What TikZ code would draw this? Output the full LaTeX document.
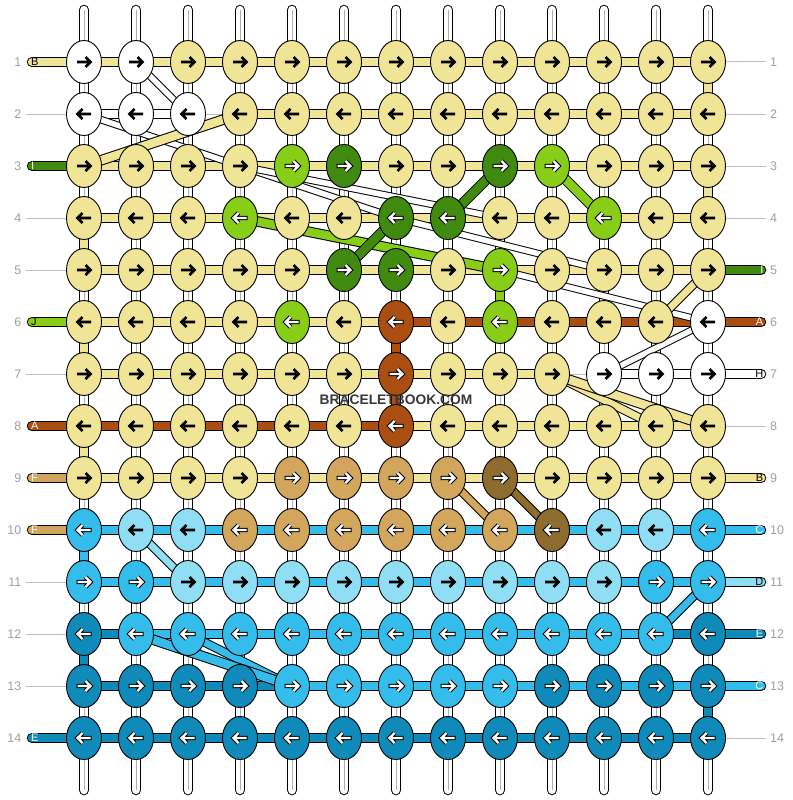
\documentclass[tikz,border=0pt]{standalone}
\usepackage{fontspec}
\setmainfont{Liberation Sans}
\usetikzlibrary{shapes.geometric}
\definecolor{cY}{RGB}{240,228,150}
\definecolor{cW}{RGB}{255,255,255}
\definecolor{cLG}{RGB}{136,206,24}
\definecolor{cDG}{RGB}{64,138,16}
\definecolor{cBR}{RGB}{170,78,18}
\definecolor{cT}{RGB}{210,166,92}
\definecolor{cD}{RGB}{142,108,46}
\definecolor{cLB}{RGB}{144,222,244}
\definecolor{cMB}{RGB}{52,188,234}
\definecolor{cDB}{RGB}{16,138,184}
\definecolor{numgray}{RGB}{160,160,160}
\definecolor{linegray}{RGB}{190,190,190}
\definecolor{strgray}{RGB}{175,175,175}
\definecolor{wmark}{RGB}{55,55,55}
\def\atY{b}\def\atW{b}\def\atLB{b}
\def\atLG{w}\def\atDG{w}\def\atBR{w}\def\atT{w}\def\atD{w}\def\atMB{w}\def\atDB{w}
\def\nonecode{N}
\newcommand\bandline[5]{%
  \draw[line width=#3, black] (#4) -- (#5);
  \draw[line width=#2, #1] (#4) -- (#5);}
\newcommand\karrow[3]{%
  \if#3w
    \draw[line width=4.4pt, black, line join=miter] (#1) ++({-7.5*(#2)},0) -- ++({14*(#2)},0) ++({-5*(#2)},-5) -- ++({5*(#2)},5) -- ++({-5*(#2)},5);
    \draw[line width=2.4pt, white, line join=miter] (#1) ++({-6.5*(#2)},0) -- ++({13*(#2)},0) ++({-5*(#2)},-5) -- ++({5*(#2)},5) -- ++({-5*(#2)},5);
  \else
    \draw[line width=2.6pt, black, line join=miter] (#1) ++({-7*(#2)},0) -- ++({13.5*(#2)},0) ++({-5*(#2)},-5) -- ++({5*(#2)},5) -- ++({-5*(#2)},5);
  \fi}
\begin{document}
\begin{tikzpicture}[x=1pt,y=-1pt,
  knot/.style={ellipse, draw=black, line width=0.9pt, minimum width=35pt, minimum height=43pt, inner sep=0pt},
  lab/.style={font=\fontsize{11}{11}\selectfont, inner sep=0pt},
  num/.style={font=\fontsize{12.5}{12.5}\selectfont, text=numgray, inner sep=0pt},
  gline/.style={draw=linegray, line width=1pt}]
\useasboundingbox (0,0) rectangle (792,800);
\fill[white] (0,0) rectangle (792,800);
% knot centres
\foreach \r in {1,...,14}{\foreach \c in {1,...,13}{
  \coordinate (k-\r-\c) at ({84+52*(\c-1)},{62+52*(\r-1)});}}
% vertical strings
\foreach \c in {1,...,13}{
  \coordinate (top-\c) at ({84+52*(\c-1)},10);
  \coordinate (bot-\c) at ({84+52*(\c-1)},790);
  \draw[line width=10.5, line cap=round] (top-\c) -- (bot-\c);
  \draw[line width=8.5, line cap=round, white] (top-\c) -- (bot-\c);
  \draw[line width=0.7, strgray] (top-\c) -- (bot-\c);
}
% horizontal segments
\foreach \r/\segs in {
 1/{Y,Y,Y,Y,Y,Y,Y,Y,Y,Y,Y,Y},
 2/{W,W,N,Y,Y,Y,Y,Y,Y,Y,Y,Y},
 3/{Y,Y,Y,Y,Y,Y,Y,Y,Y,Y,Y,Y},
 4/{Y,Y,Y,Y,Y,Y,Y,Y,Y,Y,Y,Y},
 5/{Y,Y,Y,Y,Y,Y,Y,Y,Y,Y,Y,Y},
 6/{Y,Y,Y,Y,Y,Y,BR,BR,BR,BR,BR,BR},
 7/{Y,Y,Y,Y,Y,Y,Y,Y,Y,N,W,W},
 8/{BR,BR,BR,BR,BR,BR,Y,Y,Y,Y,Y,Y},
 9/{Y,Y,Y,Y,Y,Y,Y,Y,Y,Y,Y,Y},
 10/{MB,MB,MB,MB,MB,MB,MB,MB,MB,MB,MB,MB},
 11/{MB,MB,MB,MB,MB,MB,MB,MB,MB,MB,MB,MB},
 12/{DB,MB,MB,MB,MB,MB,MB,MB,MB,MB,MB,DB},
 13/{DB,DB,DB,DB,MB,MB,MB,MB,MB,MB,MB,MB},
 14/{DB,DB,DB,DB,DB,DB,DB,DB,DB,DB,DB,DB}}{
  \foreach \s [count=\c] in \segs {
    \pgfmathtruncatemacro\cn{\c+1}
    \edef\tmp{\s}
    \ifx\tmp\nonecode
      \draw[gline, line width=0.8] (k-\r-\c) -- (k-\r-\cn);
    \else
      \bandline{c\s}{8.5}{10.5}{k-\r-\c}{k-\r-\cn}
    \fi
  }}
% vertical coloured segments
\foreach \c/\r/\col in {13/1/Y,13/3/Y,1/4/Y,1/6/Y,1/8/Y,1/10/MB,1/12/DB,13/13/DB,9/5/LG,7/6/BR,7/7/BR}{
  \pgfmathtruncatemacro\rn{\r+1}
  \bandline{c\col}{8.5}{10.5}{k-\r-\c}{k-\rn-\c}}
% white hidden strings
\foreach \a/\b in {1-2/2-3, 2-1/4-7, 3-4/4-9, 4-7/5-11, 5-9/6-13, 6-13/7-11}{
  \bandline{white}{5.5}{7.5}{k-\a}{k-\b}}
% coloured hidden strings
\foreach \col/\a/\b/\w in {Y/2-4/3-1/8.5, Y/5-13/6-12/7, Y/7-10/8-12/7, Y/7-10/8-13/8.5,
  LG/3-10/4-11/8.5, LG/4-4/5-9/8.5, DG/3-9/4-8/8.5, DG/4-7/5-6/8.5,
  T/9-8/10-9/7, D/9-9/10-10/7, LB/10-2/11-3/7, MB/11-13/12-12/7, MB/12-3/13-5/7, MB/12-2/13-5/8.5}{
  \pgfmathsetmacro\wo{\w+2}
  \bandline{c\col}{\w}{\wo}{k-\a}{k-\b}}
% left ends
\foreach \r/\col/\txt/\tc in {1/Y/B/black, 3/DG/I/white, 6/LG/J/black, 8/BR/A/white, 9/T/F/white, 10/T/F/white, 14/DB/E/white}{
  \coordinate (le-\r) at (32,{62+52*(\r-1)});
  \draw[line width=10.5, line cap=round] (le-\r) -- (k-\r-1);
  \draw[line width=8.5, line cap=round, c\col] (le-\r) -- (k-\r-1);
  \node[lab, text=\tc, anchor=west] (lt-\r) at (31,{62+52*(\r-1)}) {\txt};
}
\foreach \r in {2,4,5,7,11,12,13}{
  \coordinate (lg-\r) at (26,{62+52*(\r-1)});
  \draw[gline] (lg-\r) -- (k-\r-1);}
% right ends
\foreach \r/\col/\txt/\tc in {5/DG/I/white, 6/BR/A/white, 7/W/H/black, 9/Y/B/black, 10/MB/C/white, 11/LB/D/black, 12/DB/E/white, 13/MB/C/white}{
  \coordinate (re-\r) at (761,{62+52*(\r-1)});
  \draw[line width=10.5, line cap=round] (k-\r-13) -- (re-\r);
  \draw[line width=8.5, line cap=round, c\col] (k-\r-13) -- (re-\r);
  \node[lab, text=\tc, anchor=east] (rt-\r) at (763.5,{62+52*(\r-1)}) {\txt};
}
\foreach \r in {1,2,3,4,8,14}{
  \coordinate (rg-\r) at (766,{62+52*(\r-1)});
  \draw[gline] (k-\r-13) -- (rg-\r);}
% knots
\foreach \r/\cols in {
 1/{W,W,Y,Y,Y,Y,Y,Y,Y,Y,Y,Y,Y},
 2/{W,W,W,Y,Y,Y,Y,Y,Y,Y,Y,Y,Y},
 3/{Y,Y,Y,Y,LG,DG,Y,Y,DG,LG,Y,Y,Y},
 4/{Y,Y,Y,LG,Y,Y,DG,DG,Y,Y,LG,Y,Y},
 5/{Y,Y,Y,Y,Y,DG,DG,Y,LG,Y,Y,Y,Y},
 6/{Y,Y,Y,Y,LG,Y,BR,Y,LG,Y,Y,Y,W},
 7/{Y,Y,Y,Y,Y,Y,BR,Y,Y,Y,W,W,W},
 8/{Y,Y,Y,Y,Y,Y,BR,Y,Y,Y,Y,Y,Y},
 9/{Y,Y,Y,Y,T,T,T,T,D,Y,Y,Y,Y},
 10/{MB,LB,LB,T,T,T,T,T,T,D,LB,LB,MB},
 11/{MB,MB,LB,LB,LB,LB,LB,LB,LB,LB,LB,MB,MB},
 12/{DB,MB,MB,MB,MB,MB,MB,MB,MB,MB,MB,MB,DB},
 13/{DB,DB,DB,DB,MB,MB,MB,MB,MB,DB,DB,DB,DB},
 14/{DB,DB,DB,DB,DB,DB,DB,DB,DB,DB,DB,DB,DB}}{
  \pgfmathtruncatemacro\sg{2*mod(\r,2)-1}
  \foreach \k [count=\c] in \cols {
    \node[knot, fill=c\k] (n-\r-\c) at (k-\r-\c) {};
    \edef\ty{\csname at\k\endcsname}
    \karrow{n-\r-\c.center}{\sg}{\ty}
  }}
% row numbers
\foreach \r in {1,...,14}{
  \node[num, anchor=east] (ln-\r) at (21.5,{62+52*(\r-1)}) {\r};
  \node[num, anchor=west] (rn-\r) at (770,{62+52*(\r-1)}) {\r};
}
\node[font=\fontsize{13.8}{14}\selectfont\bfseries, text=wmark, inner sep=0pt] (wm) at (396,399.5) {BRACELETBOOK.COM};
\end{tikzpicture}
\end{document}
